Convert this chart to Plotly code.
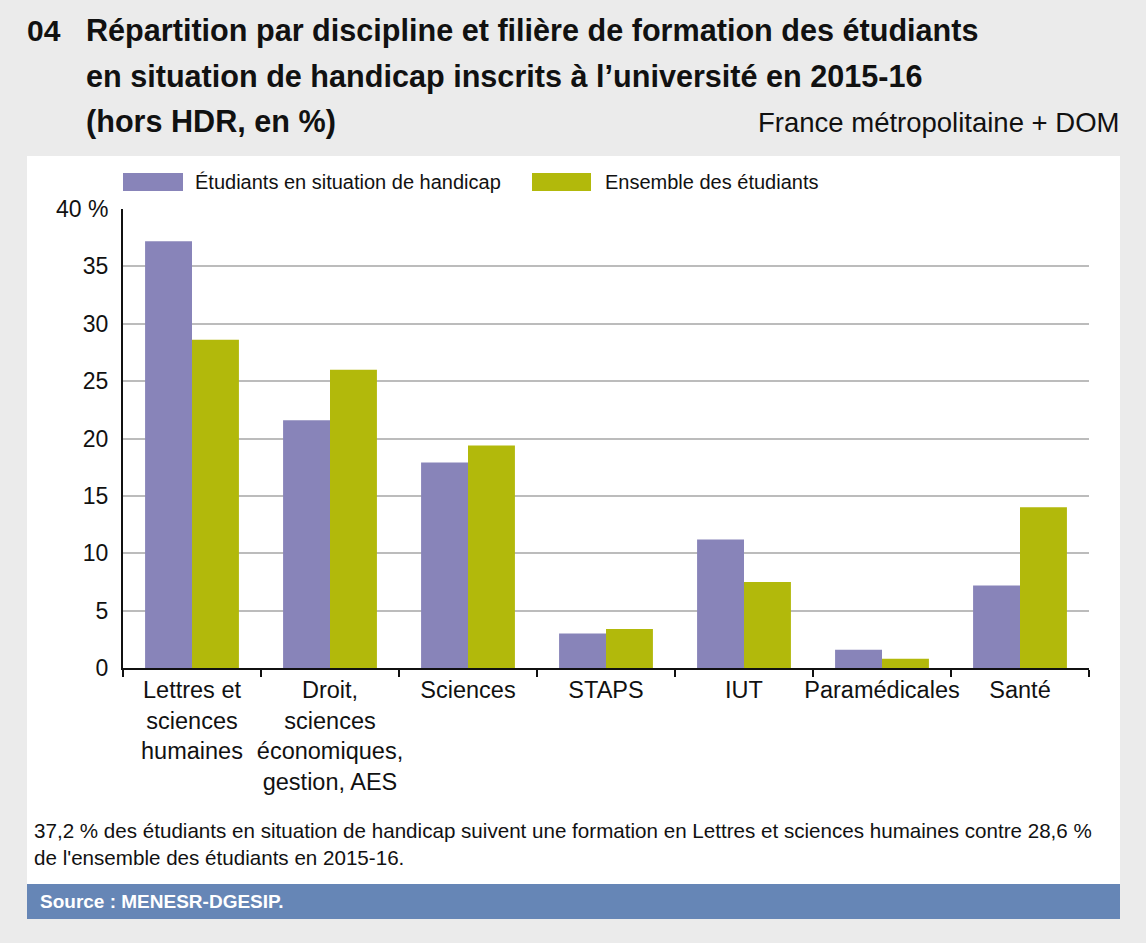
import plotly.graph_objects as go

# data
categories = ["Lettres et<br>sciences<br>humaines",
              "Droit,<br>sciences<br>économiques,<br>gestion, AES",
              "Sciences", "STAPS", "IUT", "Paramédicales", "Santé"]
handicap = [37.2, 21.6, 17.9, 3.0, 11.2, 1.6, 7.2]
ensemble = [28.6, 26.0, 19.4, 3.4, 7.5, 0.8, 14.0]
series_names = ["Étudiants en situation de handicap", "Ensemble des étudiants"]
y_ticks = [0, 5, 10, 15, 20, 25, 30, 35, 40]
y_labels = ["0", "5", "10", "15", "20", "25", "30", "35", "40 %"]

W, H = 1146, 943
L, R, T, B = 123, 57, 209, 275
PURPLE = "#8884b9"
GREEN = "#b2b90b"
BG = "#ebebeb"
FONT = "Liberation Sans, Arial, sans-serif"


def px(x):
    return (x - L) / (W - L - R)


def py(y):
    return (H - B - y) / (H - T - B)


fig = go.Figure()
fig.add_trace(go.Bar(x=categories, y=handicap, name=series_names[0],
                     marker=dict(color=PURPLE, line=dict(width=0))))
fig.add_trace(go.Bar(x=categories, y=ensemble, name=series_names[1],
                     marker=dict(color=GREEN, line=dict(width=0))))

shapes = [
    # white panel
    dict(type="rect", xref="paper", yref="paper", layer="below",
         x0=px(27), x1=px(1120), y0=py(884), y1=py(156),
         fillcolor="white", line=dict(width=0)),
    # source band
    dict(type="rect", xref="paper", yref="paper", layer="below",
         x0=px(27), x1=px(1120), y0=py(919), y1=py(884),
         fillcolor="#6686b6", line=dict(width=0)),
    # legend swatches
    dict(type="rect", xref="paper", yref="paper",
         x0=px(123), x1=px(183), y0=py(191), y1=py(173),
         fillcolor=PURPLE, line=dict(width=0)),
    dict(type="rect", xref="paper", yref="paper",
         x0=px(532), x1=px(591), y0=py(191), y1=py(173),
         fillcolor=GREEN, line=dict(width=0)),
]

title_lines = ["Répartition par discipline et filière de formation des étudiants",
               "en situation de handicap inscrits à l’université en 2015-16",
               "(hors HDR, en %)"]

annotations = [
    dict(text="<b>04</b>", x=px(25), y=py(31), xanchor="left", yanchor="middle",
         font=dict(size=30, color="#111")),
]
for i, line in enumerate(title_lines):
    annotations.append(dict(text="<b>" + line + "</b>", x=px(84), y=py(31 + i * 45),
                            xanchor="left", yanchor="middle",
                            font=dict(size=30.6, color="#111")))
annotations += [
    dict(text="France métropolitaine + DOM", x=px(1121), y=py(122),
         xanchor="right", yanchor="middle", font=dict(size=27.5, color="#111")),
    dict(text=series_names[0], x=px(193), y=py(182), xanchor="left", yanchor="middle",
         font=dict(size=20, color="#111")),
    dict(text=series_names[1], x=px(603), y=py(182), xanchor="left", yanchor="middle",
         font=dict(size=20, color="#111")),
    dict(text="37,2 % des étudiants en situation de handicap suivent une formation en Lettres et sciences humaines contre 28,6 %<br>"
              "de l'ensemble des étudiants en 2015-16.",
         x=px(32), y=py(817), xanchor="left", yanchor="top", align="left",
         font=dict(size=20.6, color="#111")),
    dict(text="<b>Source : MENESR-DGESIP.</b>", x=px(38), y=py(901),
         xanchor="left", yanchor="middle", font=dict(size=19, color="white")),
]
for a in annotations:
    a.update(xref="paper", yref="paper", showarrow=False)

fig.update_layout(
    width=W, height=H,
    margin=dict(l=L, r=R, t=T, b=B),
    paper_bgcolor=BG,
    plot_bgcolor="white",
    font=dict(family=FONT, color="#111"),
    barmode="group", bargap=0.32, bargroupgap=0,
    showlegend=False,
    shapes=shapes,
    annotations=annotations,
)
fig.update_xaxes(
    type="category", tickson="boundaries", ticks="outside", ticklen=7,
    tickcolor="#111", tickwidth=2, showline=True, linecolor="#111", linewidth=2,
    showgrid=False, tickangle=0, tickfont=dict(size=23.5, color="#111"),
)
fig.update_yaxes(
    range=[0, 40], tickvals=y_ticks, ticktext=y_labels,
    showline=True, linecolor="#111", linewidth=2, showgrid=True,
    gridcolor="#bcbcbc", gridwidth=1.5, zeroline=False, ticks="",
    ticklabelstandoff=8, tickfont=dict(size=23, color="#111"),
)

fig.write_html("out.html", config={"displayModeBar": False},
               post_script="document.body.style.margin='0';"
               "document.body.style.background='" + BG + "';")
